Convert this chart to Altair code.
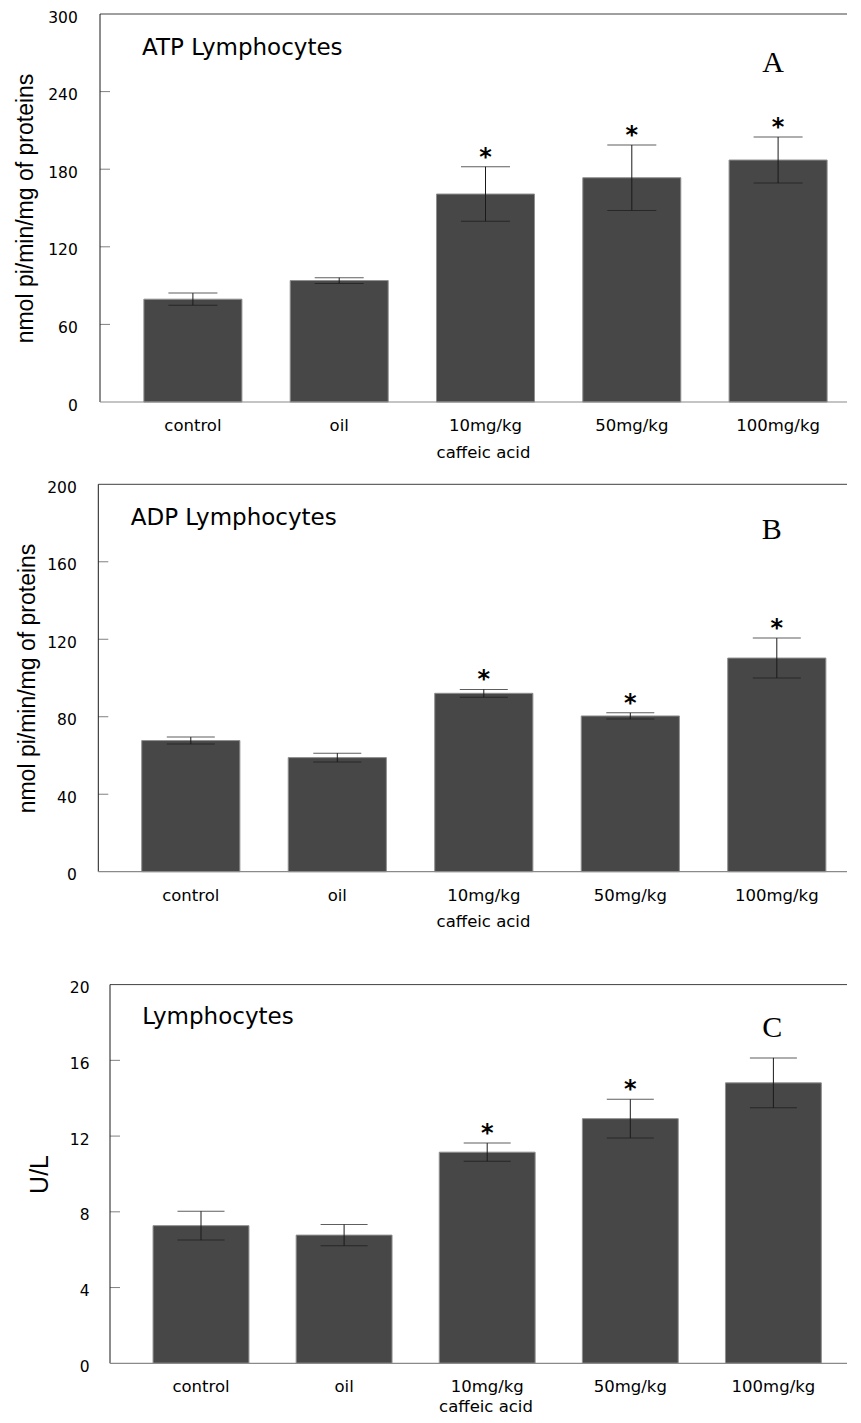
import altair as alt
import pandas as pd

categories = ["control", "oil", "10mg/kg", "50mg/kg", "100mg/kg"]

atp_mean = [79.5, 93.9, 160.8, 173.4, 187.1]
atp_err = [4.7, 2.2, 21.1, 25.3, 17.8]
atp_star = ["", "", "*", "*", "*"]
atp_ticks = [0, 60, 120, 180, 240, 300]

adp_mean = [67.7, 58.9, 92.1, 80.4, 110.3]
adp_err = [1.8, 2.3, 2.0, 1.6, 10.3]
adp_star = ["", "", "*", "*", "*"]
adp_ticks = [0, 40, 80, 120, 160, 200]

ul_mean = [7.27, 6.77, 11.15, 12.92, 14.81]
ul_err = [0.76, 0.56, 0.48, 1.02, 1.32]
ul_star = ["", "", "*", "*", ""]
ul_ticks = [0, 4, 8, 12, 16, 20]

W = 748
SANS = "DejaVu Sans"


def panel(mean, err, star, ticks, height, extra, off, step, cap, ytitle, ytitle_size,
          ytitle_x, lab_pad, title, tx, ty, letter, lx, ly, xt_x, xt_y, first_c):
    df = pd.DataFrame({
        "cat": categories,
        "mean": mean,
        "lo": [m - e for m, e in zip(mean, err)],
        "hi": [m + e for m, e in zip(mean, err)],
        "star": star,
    })
    one = pd.DataFrame({"d": [0]})
    tdf = pd.DataFrame({"t": ticks[1:-1]})
    H = height + extra

    pin = 0.33
    R = W - off
    n_eff = R / step
    pout = (n_eff - (5 - pin)) / 2
    free = R - step * (5 - pin)
    left_gap = first_c - step * (1 - pin) / 2
    align = left_gap / free

    xs = alt.Scale(domain=categories, range=[off, W],
                   paddingInner=pin, paddingOuter=pout, align=align)
    ys = alt.Scale(domain=[0, ticks[-1]], nice=False, zero=True, range=[H, extra])
    xaxis = alt.Axis(title="caffeic acid", domain=False, ticks=False, tickSize=0,
                     labelPadding=28.5, labelBaseline="alphabetic", labelAngle=0,
                     labelFont=SANS, labelFontSize=16.5, labelColor="black",
                     titleFont=SANS, titleFontSize=16.5, titleFontWeight="normal",
                     titleColor="black", titleX=xt_x, titleY=xt_y,
                     titleAlign="center", titleBaseline="alphabetic", grid=False)
    yaxis = alt.Axis(title=ytitle, values=ticks, domain=False, ticks=False, tickSize=0,
                     labelPadding=lab_pad, labelBaseline="alphabetic", labelOffset=8,
                     labelFont=SANS, labelFontSize=15.5, labelColor="black",
                     titleFont="Liberation Sans", titleFontSize=ytitle_size,
                     titleFontWeight="normal", titleColor="black",
                     titleX=ytitle_x, titleY=extra + height / 2, titleAlign="center",
                     titleBaseline="alphabetic", titleAngle=270, grid=False, format="d")
    X = alt.X("cat:N", scale=xs, axis=xaxis, sort=categories)

    def Y(f):
        return alt.Y(f"{f}:Q", scale=ys, axis=yaxis)

    base = alt.Chart(df)
    bars = base.mark_bar(color="#474747", stroke="#8f8f8f", strokeWidth=1).encode(
        x=X, y=Y("mean"))
    errl = base.mark_rule(color="#1a1a1a", strokeWidth=1).encode(
        x=X, y=Y("lo"), y2="hi:Q")
    caplo = base.mark_tick(color="#1a1a1a", thickness=1, size=cap).encode(x=X, y=Y("lo"))
    caphi = base.mark_tick(color="#1a1a1a", thickness=1, size=cap).encode(x=X, y=Y("hi"))
    stars = base.mark_text(font=SANS, fontWeight="bold", fontSize=24,
                           baseline="alphabetic", align="center", dy=-2,
                           color="black").encode(x=X, y=Y("hi"), text="star:N")
    iticks = alt.Chart(tdf).mark_rule(color="#808080", strokeWidth=1).encode(
        x=alt.value(off), x2=alt.value(off + 10), y=Y("t"))
    top = alt.Chart(one).mark_rule(color="#404040", strokeWidth=1).encode(
        x=alt.value(off), x2=alt.value(W), y=alt.value(extra))
    left = alt.Chart(one).mark_rule(color="#1a1a1a", strokeWidth=1).encode(
        x=alt.value(off), y=alt.value(extra), y2=alt.value(H))
    bottom = alt.Chart(one).mark_rule(color="#8a8a8a", strokeWidth=1.2).encode(
        x=alt.value(off), x2=alt.value(W), y=alt.value(H))
    ttl = alt.Chart(one).mark_text(text=title, align="left", baseline="alphabetic",
                                   font=SANS, fontSize=23, color="black").encode(
        x=alt.value(tx), y=alt.value(extra + ty))
    let = alt.Chart(one).mark_text(text=letter, align="center", baseline="alphabetic",
                                   font="Liberation Serif", fontSize=30,
                                   color="black").encode(
        x=alt.value(lx), y=alt.value(extra + ly))
    return alt.layer(bars, errl, caplo, caphi, stars, iticks, top, left, bottom,
                     ttl, let).properties(width=W, height=H)


pA = panel(atp_mean, atp_err, atp_star, atp_ticks, 388, 0, 1, 146.3, 49,
           "nmol pi/min/mg of proteins", 23, -67, 21.7,
           "ATP Lymphocytes", 43, 41, "A", 674, 57.7, 384, 55, 92.9)
pB = panel(adp_mean, adp_err, adp_star, adp_ticks, 387.4, 0, -0.7, 146.5, 48,
           "nmol pi/min/mg of proteins", 23, -65, 22.7,
           "ADP Lymphocytes", 31.7, 40.7, "B", 672.7, 54.7, 384, 55, 92.5)
pC = panel(ul_mean, ul_err, ul_star, ul_ticks, 378.7, 30, 11, 143.1, 47,
           "U/L", 25, -51.7, 10,
           "Lymphocytes", 43.3, 39.3, "C", 673.3, 52, 386.5, 48, 91)

chart = alt.vconcat(pA, pB, pC, spacing=82.3, bounds="flush").properties(
    padding={"left": 6, "top": 2, "right": 0, "bottom": 0}
).configure_view(stroke=None)

chart.save("out.html", embed_options={"renderer": "svg", "actions": False})
